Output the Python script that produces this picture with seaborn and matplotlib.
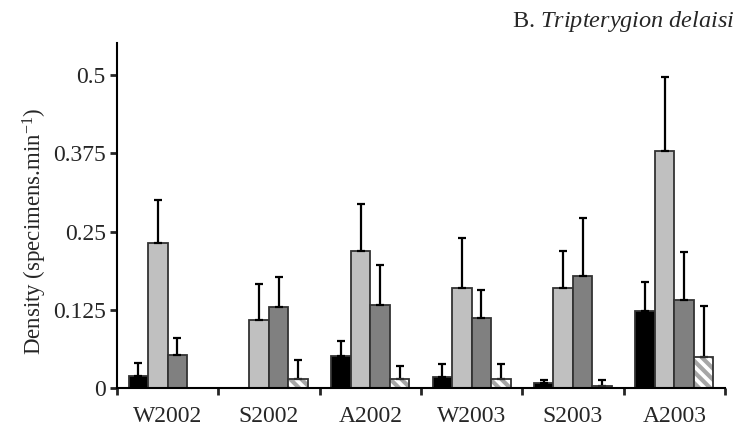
import matplotlib
matplotlib.use("Agg")
import matplotlib.pyplot as plt
from matplotlib.patches import Rectangle
import numpy as np
import pandas as pd
import seaborn as sns

# data (means and upper end of the error bar)
seasons = ["W2002", "S2002", "A2002", "W2003", "S2003", "A2003"]
groups = ["g1", "g2", "g3", "g4"]
g1_mean = [0.019, 0.0, 0.051, 0.018, 0.008, 0.123]
g2_mean = [0.232, 0.109, 0.219, 0.160, 0.160, 0.378]
g3_mean = [0.052, 0.129, 0.133, 0.112, 0.179, 0.141]
g4_mean = [0.0, 0.015, 0.015, 0.014, 0.004, 0.049]
g1_top = [0.040, np.nan, 0.075, 0.038, 0.013, 0.169]
g2_top = [0.300, 0.166, 0.294, 0.240, 0.219, 0.497]
g3_top = [0.080, 0.177, 0.196, 0.157, 0.272, 0.217]
g4_top = [np.nan, 0.045, 0.035, 0.038, 0.013, 0.131]

colors = ["#000000", "#c0c0c0", "#808080", "#ffffff"]

means = [g1_mean, g2_mean, g3_mean, g4_mean]
tops = [g1_top, g2_top, g3_top, g4_top]
df = pd.DataFrame({
    "season": np.tile(seasons, len(groups)),
    "group": np.repeat(groups, len(seasons)),
    "density": np.concatenate(means),
})

sns.set_style("ticks")
plt.rcParams["font.family"] = ["Liberation Serif", "DejaVu Serif"]
plt.rcParams["mathtext.fontset"] = "custom"
plt.rcParams["mathtext.rm"] = "Liberation Serif"
plt.rcParams["mathtext.it"] = "Liberation Serif:italic"
plt.rcParams["hatch.color"] = "#a6a6a6"
plt.rcParams["hatch.linewidth"] = 3.0

fig = plt.figure(figsize=(7.47, 4.36), dpi=100)
ax = fig.add_axes([0.1566, 0.110, 0.8139, 0.791])

sns.barplot(data=df, x="season", y="density", hue="group", order=seasons,
            hue_order=groups, palette=colors, width=0.77, errorbar=None,
            edgecolor="#333333", linewidth=1.3, saturation=1, legend=False, ax=ax)

bar_conts = list(ax.containers)
for i, cont in enumerate(bar_conts):
    for j, bar in enumerate(cont.patches):
        if i == 3:
            # hatch follows the edge colour, so draw the dark outline on top
            bar.set_hatch("\\\\\\")
            bar.set_edgecolor("#a6a6a6")
            bar.set_linewidth(0)
            ax.add_patch(Rectangle(bar.get_xy(), bar.get_width(), bar.get_height(),
                                   fill=False, edgecolor="#333333", linewidth=1.3,
                                   zorder=2))
        top = tops[i][j]
        if np.isnan(top):
            continue
        xc = bar.get_x() + bar.get_width() / 2
        val = means[i][j]
        ax.errorbar(xc, val, yerr=[[0], [top - val]], fmt="none", ecolor="black",
                    elinewidth=1.6, capsize=3, capthick=1.6, zorder=1)

ax.set_xlim(-0.5, 5.5)
ax.set_ylim(0, 0.551)
ax.set_yticks([0, 0.125, 0.25, 0.375, 0.5])
ax.set_yticklabels(["0", "0.125", "0.25", "0.375", "0.5"])
ax.set_xticks(np.arange(-0.5, 6.0, 1.0), minor=True)
ax.tick_params(axis="x", which="major", length=0, pad=13, labelsize=17)
ax.tick_params(axis="x", which="minor", length=5, width=2, direction="out")
ax.tick_params(axis="y", length=5, width=2, direction="out", pad=3, labelsize=17)
ax.set_xlabel("")
ax.set_ylabel("Density (specimens.min$^{\\mathregular{-1}}$)", fontsize=16.5)
ax.yaxis.set_label_coords(-0.112, 0.455)
sns.despine(ax=ax)
for s in ["left", "bottom"]:
    ax.spines[s].set_linewidth(1.5)
    ax.spines[s].set_color("black")

fig.text(0.984, 1 - 22 / 436, "B. $\\mathit{Tripterygion\\ delaisi}$",
         ha="right", va="center", fontsize=17.5)

fig.savefig("out.png", dpi=100)
